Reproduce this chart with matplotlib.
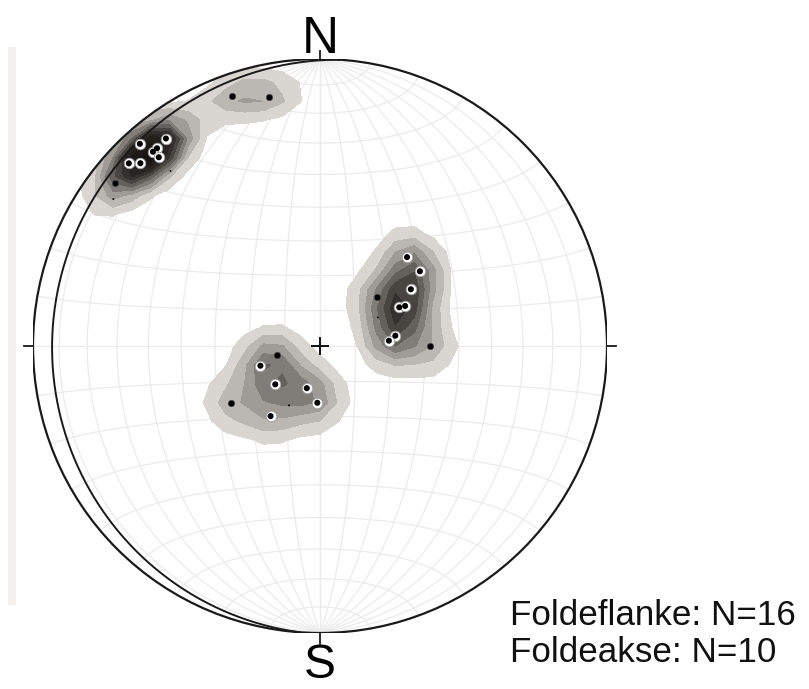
import numpy as np
import matplotlib
matplotlib.use("Agg")
import matplotlib.pyplot as plt
from matplotlib.patches import Circle, Rectangle
from matplotlib.colors import to_hex

# Poles drawn with a white ring (trend, plunge in degrees)
ringed_trend = [318.3, 323.4, 320.5, 319.3, 319.5, 313.7, 315.5,
                44.4, 53.2, 58.0, 64.0, 64.8, 82.2, 85.6,
                251.7, 229.4, 197.4, 182.7, 215.2]
ringed_plunge = [6.3, 10.9, 11.7, 11.7, 14.6, 8.7, 11.7,
                 54.3, 54.2, 59.4, 64.9, 63.2, 68.4, 70.4,
                 72.2, 73.3, 77.5, 73.9, 65.6]
# Plain black poles
plain_trend = [308.5, 340.6, 348.5, 49.4, 90.0, 258.6, 237.3]
plain_plunge = [9.6, 8.4, 12.4, 68.5, 58.5, 77.6, 59.7]
# Density maxima markers
peak_trend = [319.5, 305.4, 63.7, 207.6]
peak_plunge = [20.9, 12.7, 71.7, 71.0]
# Fitted great circle (right-hand-rule strike, dip)
girdle_strike, girdle_dip = 184.0, 7.4

legend_lines = ["Foldeflanke: N=16", "Foldeakse: N=10"]


def lines_to_vec(trend, plunge):
    t = np.radians(np.asarray(trend, float))
    p = np.radians(np.asarray(plunge, float))
    return np.stack([np.cos(p) * np.sin(t), np.cos(p) * np.cos(t), np.sin(p)], -1)


def project(v):
    """Lambert equal-area (lower hemisphere), v = (east, north, down)."""
    v = np.asarray(v, float)
    s = 1.0 / np.sqrt(1.0 + v[..., 2])
    return v[..., 0] * s, v[..., 1] * s


def unproject(x, y):
    rr = x ** 2 + y ** 2
    scale = np.where(rr > 1, 1 / np.sqrt(np.maximum(rr, 1e-12)), 1.0)
    x, y = x * scale, y * scale
    d = 1 - np.clip(rr, 0, 1)
    f = np.sqrt(1 + d)
    return np.stack([x * f, y * f, d], -1)


def plane_curve(strike, dip, n=200):
    st = np.radians(strike)
    dd = st + np.pi / 2
    dp = np.radians(dip)
    s = np.array([np.sin(st), np.cos(st), 0.0])
    d = np.array([np.sin(dd) * np.cos(dp), np.cos(dd) * np.cos(dp), np.sin(dp)])
    a = np.linspace(0, np.pi, n)[:, None]
    return project(np.cos(a) * s + np.sin(a) * d)


fig = plt.figure(figsize=(8.09, 6.89), dpi=100)
fig.patch.set_facecolor("white")
R = 287.0
cx, cy = 320.0, 346.0
ax = fig.add_axes([(cx - R) / 809, (689 - cy - R) / 689, 2 * R / 809, 2 * R / 689])
ax.set_xlim(-1, 1)
ax.set_ylim(-1, 1)
ax.axis("off")

# faint scan strip at the left edge
fig.patches.append(Rectangle((8 / 809, 1 - 605 / 689), 8 / 809, 558 / 689,
                             transform=fig.transFigure, facecolor="#f3f0ed",
                             edgecolor="none", zorder=0))

# equal-area net: meridians and parallels every 10 degrees
grid_kw = dict(color="#ebebeb", lw=0.9, zorder=1)
for dip in range(10, 91, 10):
    for strike in (0, 180):
        gx, gy = plane_curve(strike, dip)
        ax.plot(gx, gy, **grid_kw)
t = np.linspace(0, np.pi, 200)
for beta in range(10, 171, 10):
    b = np.radians(beta)
    v = np.stack([np.sin(b) * np.cos(t), np.full_like(t, np.cos(b)), np.sin(b) * np.sin(t)], -1)
    gx, gy = project(v)
    ax.plot(gx, gy, **grid_kw)

# density contours (exponential kernel on the sphere, coarse grid)
pts = lines_to_vec(ringed_trend + plain_trend, ringed_plunge + plain_plunge)
k = 120.0
g = np.linspace(-1.05, 1.05, 33)
GX, GY = np.meshgrid(g, g)
V = unproject(GX, GY)
dens = np.exp(k * (V @ pts.T - 1)).sum(-1)

levels = [0.35, 0.8, 1.25, 1.7, 2.15, 2.6, 3.05, 3.5, 3.95, 4.4, 4.85, 5.3, 100]
grays = [0.84, 0.72, 0.61, 0.49, 0.38, 0.27, 0.19, 0.15, 0.12, 0.10, 0.08, 0.07]
cols = [to_hex((min(1, gv + 0.012), gv, max(0, gv - 0.015))) for gv in grays]
cf = ax.contourf(GX, GY, dens, levels=levels, colors=cols, zorder=2)
cf.set_clip_path(Circle((0, 0), 1, transform=ax.transData))

# primitive circle and fitted great circle
ax.add_patch(Circle((0, 0), 1, fill=False, ec="#1a1a1a", lw=1.6, zorder=5))
gx, gy = plane_curve(girdle_strike, girdle_dip)
ax.plot(gx, gy, color="#1a1a1a", lw=1.4, zorder=5)

# compass ticks and centre cross
tk = dict(color="#1a1a1a", lw=1.3, clip_on=False, zorder=5)
ax.plot([0, 0], [1, 1 + 8 / R], **tk)
ax.plot([0, 0], [-1, -1 - 11 / R], **tk)
ax.plot([-1, -1 - 9 / R], [0, 0], **tk)
ax.plot([1, 1 + 9 / R], [0, 0], **tk)
c = 8 / R
ax.plot([-c, c], [0, 0], color="#111111", lw=1.4, zorder=6)
ax.plot([0, 0], [-c, c], color="#111111", lw=1.4, zorder=6)

# data points
rx, ry = project(lines_to_vec(ringed_trend, ringed_plunge))
ax.scatter(rx, ry, s=58, facecolor="white", edgecolor="#9a9a9a", lw=0.6, zorder=7)
ax.scatter(rx, ry, s=19, facecolor="black", edgecolor="none", zorder=8)
px, py = project(lines_to_vec(plain_trend, plain_plunge))
ax.scatter(px, py, s=22, facecolor="black", edgecolor="#555555", lw=0.4, zorder=7)
mx, my = project(lines_to_vec(peak_trend, peak_plunge))
ax.scatter(mx, my, s=2, facecolor="black", edgecolor="none", zorder=7)

# labels
lab_font = ["Liberation Sans Narrow", "Liberation Sans", "DejaVu Sans"]
ax.text(0, (cy - 53) / R, "N", ha="center", va="baseline", fontsize=37,
        family=lab_font, clip_on=False)
ax.text(0, (cy - 678) / R, "S", ha="center", va="baseline", fontsize=34.5,
        family=lab_font, clip_on=False)
for i, line in enumerate(legend_lines):
    fig.text(510 / 809, 1 - (625 + 37 * i) / 689, line, ha="left", va="baseline",
             fontsize=25.2, family=["Liberation Sans", "DejaVu Sans"], color="#111111")

fig.savefig("out.png", dpi=100)
